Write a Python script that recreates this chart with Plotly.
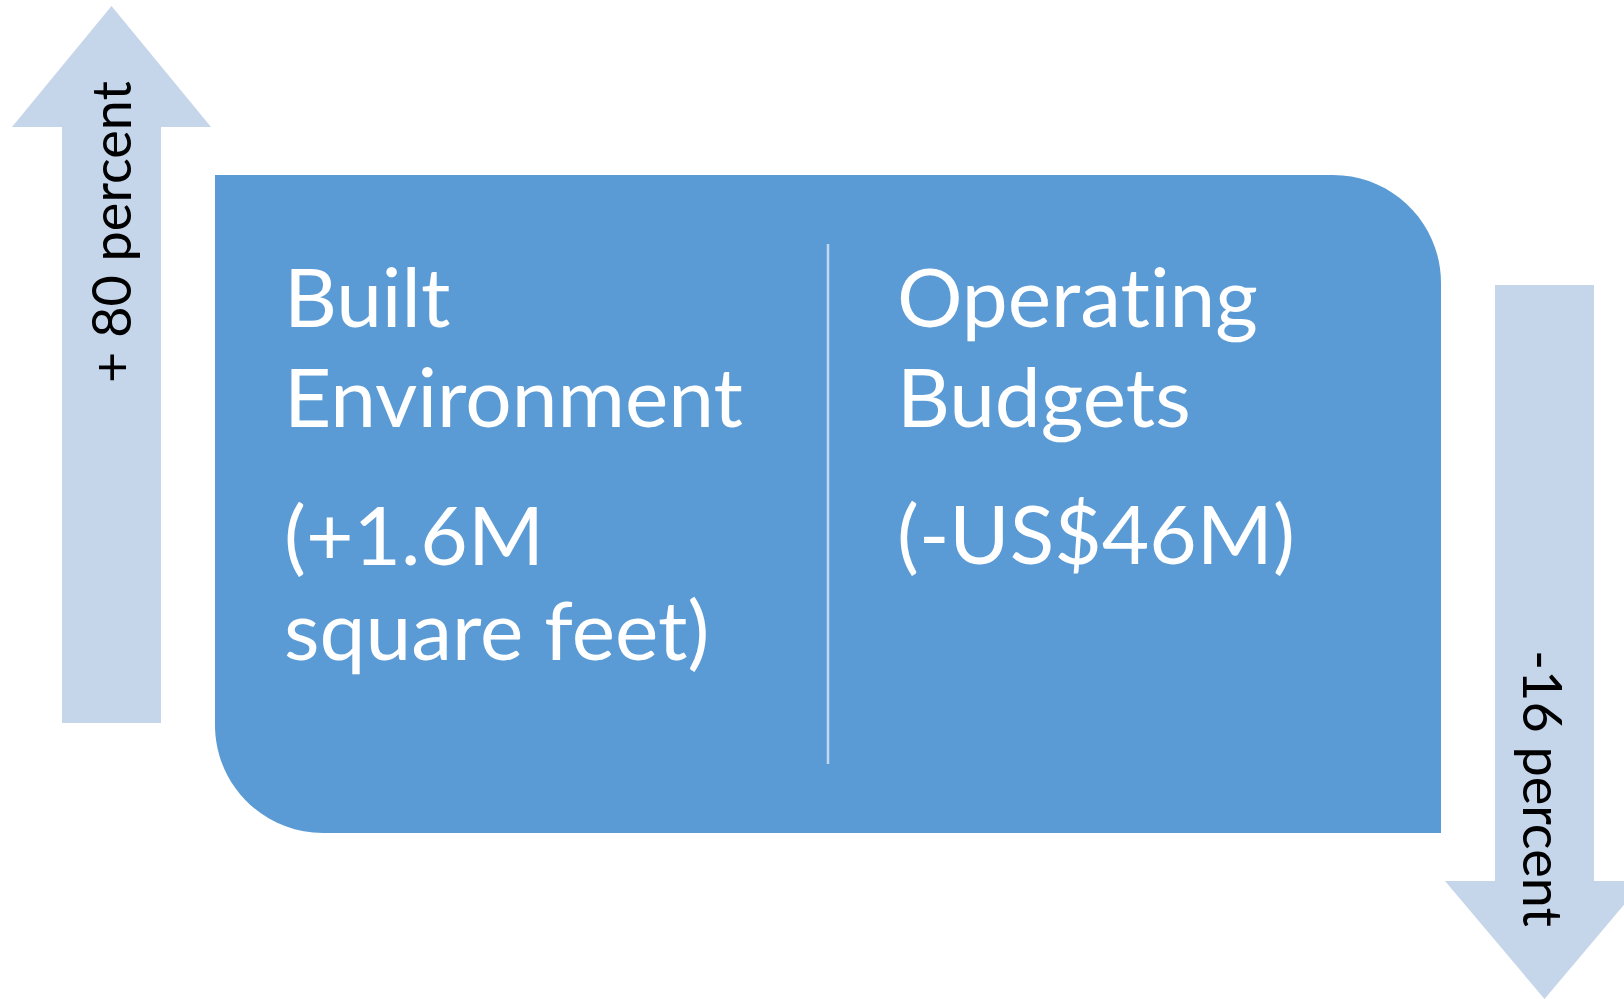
import plotly.graph_objects as go

# Diagram text
left_heading = ['Built', 'Environment']
left_value = ['(+1.6M', 'square feet)']
right_heading = ['Operat\u200cing', 'Budgets']   # ZWNJ stops the Lato "ti" ligature
right_value = ['(-US$46M)']
up_label = '+ 80 percent'
down_label = '-16 percent'

# Colours
box_blue = '#5B9BD5'
arrow_blue = '#C5D5EA'
divider = '#C3D7EE'

W, H = 1624, 999
font = 'Lato'
big = 82
small = 54


def rounded_box(x0, y0, x1, y1, r):
    # top-right and bottom-left corners rounded, cubic approximation of arcs
    k = 0.5523 * r
    return (f'M {x0},{y0} L {x1 - r},{y0} '
            f'C {x1 - r + k},{y0} {x1},{y0 + r - k} {x1},{y0 + r} '
            f'L {x1},{y1} L {x0 + r},{y1} '
            f'C {x0 + r - k},{y1} {x0},{y1 - r + k} {x0},{y1 - r} Z')


def arrow(cx, shaft_w, head_w, tip, head_base, tail):
    return (f'M {cx},{tip} L {cx + head_w / 2},{head_base} L {cx + shaft_w / 2},{head_base} '
            f'L {cx + shaft_w / 2},{tail} L {cx - shaft_w / 2},{tail} '
            f'L {cx - shaft_w / 2},{head_base} L {cx - head_w / 2},{head_base} Z')


fig = go.Figure()

shapes = [
    dict(type='path', path=arrow(111.5, 99, 199, 6, 127, 723), fillcolor=arrow_blue, line=dict(width=0)),
    dict(type='path', path=arrow(1544.5, 99, 199, 999, 881, 285), fillcolor=arrow_blue, line=dict(width=0)),
    dict(type='path', path=rounded_box(215, 175, 1441, 833, 108), fillcolor=box_blue, line=dict(width=0)),
    dict(type='line', x0=828, x1=828, y0=244, y1=764, line=dict(color=divider, width=2.5)),
]
for s in shapes:
    s.update(xref='x', yref='y', layer='below')

annotations = []


def add_line(text, x, baseline, size, color):
    annotations.append(dict(
        text=text, x=x, y=baseline - 0.36 * size, xref='x', yref='y',
        xanchor='left', yanchor='middle', showarrow=False,
        font=dict(family=font, size=size, color=color),
    ))


for text, base in zip(left_heading + left_value, [325, 425, 563, 658]):
    add_line(text, 282, base, big, 'white')
for text, base in zip(right_heading + right_value, [325, 425, 562]):
    add_line(text, 895, base, big, 'white')

annotations.append(dict(
    text=up_label, x=110, y=232, xref='x', yref='y', xanchor='center', yanchor='middle',
    showarrow=False, textangle=-90, font=dict(family=font, size=small, color='black'),
))
annotations.append(dict(
    text=down_label, x=1544, y=788, xref='x', yref='y', xanchor='center', yanchor='middle',
    showarrow=False, textangle=90, font=dict(family=font, size=small, color='black'),
))

fig.update_layout(
    width=W, height=H,
    margin=dict(l=0, r=0, t=0, b=0),
    paper_bgcolor='white', plot_bgcolor='white',
    shapes=shapes, annotations=annotations,
    showlegend=False,
)
fig.update_xaxes(range=[0, W], visible=False, fixedrange=True)
fig.update_yaxes(range=[H, 0], visible=False, fixedrange=True)

# drop the page's default body margin so the figure fills the window exactly
fig.write_html('out.html', config={'displayModeBar': False},
               post_script="document.body.style.margin='0';document.body.style.overflow='hidden';")
